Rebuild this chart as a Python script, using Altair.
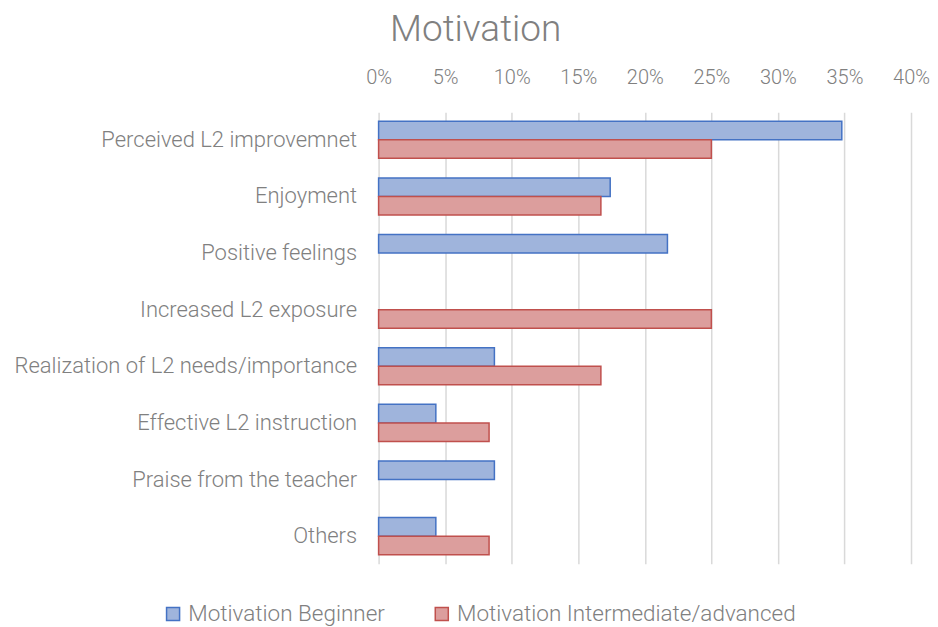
import altair as alt
import pandas as pd

categories = [
    "Perceived L2 improvemnet",
    "Enjoyment",
    "Positive feelings",
    "Increased L2 exposure",
    "Realization of L2 needs/importance",
    "Effective L2 instruction",
    "Praise from the teacher",
    "Others",
]
series = ["Motivation Beginner", "Motivation Intermediate/advanced"]
beginner = [0.348, 0.174, 0.217, 0.0, 0.087, 0.043, 0.087, 0.043]
intermediate = [0.25, 0.167, 0.0, 0.25, 0.167, 0.083, 0.0, 0.083]

rows = []
for c, b, i in zip(categories, beginner, intermediate):
    rows.append({"category": c, "series": series[0], "value": b})
    rows.append({"category": c, "series": series[1], "value": i})
df = pd.DataFrame(rows)

FONT = "Roboto"
GRAY = "#808080"

chart = alt.Chart(df).transform_filter(
    alt.datum.value > 0
).mark_bar(strokeWidth=1.5).encode(
    y=alt.Y("category:N", sort=categories, title=None,
            scale=alt.Scale(domain=categories, paddingInner=0.345, paddingOuter=0.16),
            axis=alt.Axis(domain=False, ticks=False, labelFontSize=22, labelColor=GRAY,
                          labelFont=FONT, labelFontWeight=300, labelPadding=22, labelLimit=400)),
    yOffset=alt.YOffset("series:N", sort=series, scale=alt.Scale(domain=series)),
    x=alt.X("value:Q", title=None,
            scale=alt.Scale(domain=[0, 0.4], nice=False),
            axis=alt.Axis(orient="top", format=".0%", values=[0, 0.05, 0.1, 0.15, 0.2, 0.25, 0.3, 0.35, 0.4],
                          domain=False, ticks=False, grid=True, gridColor="#d9d9d9", gridWidth=1.5,
                          labelFontSize=20, labelColor=GRAY, labelFont=FONT, labelFontWeight=300,
                          labelPadding=25, labelFlush=False)),
    fill=alt.Fill("series:N", sort=series,
                  scale=alt.Scale(domain=series, range=["#9fb4dc", "#dc9e9d"]),
                  legend=alt.Legend(orient="none", legendX=-217, legendY=491, direction="horizontal",
                                    title=None,
                                    symbolType="square", symbolSize=170, symbolStrokeWidth=1.5,
                                    labelFontSize=22.5, labelColor=GRAY, labelFont=FONT,
                                    labelFontWeight=300, labelOffset=4,
                                    columnPadding=45, labelLimit=400)),
    stroke=alt.Stroke("series:N", sort=series,
                      scale=alt.Scale(domain=series, range=["#4472c4", "#c0504d"])),
).properties(
    width=533,
    height=452,
    padding={"top": 3, "left": 5, "right": 0, "bottom": 5},
    title=alt.TitleParams("Motivation", fontSize=37, font=FONT, color=GRAY, fontWeight=300,
                          anchor="middle", frame="bounds", offset=18, dx=4),
).configure_view(stroke=None)

chart.save("out.html", embed_options={"renderer": "svg", "actions": False})
